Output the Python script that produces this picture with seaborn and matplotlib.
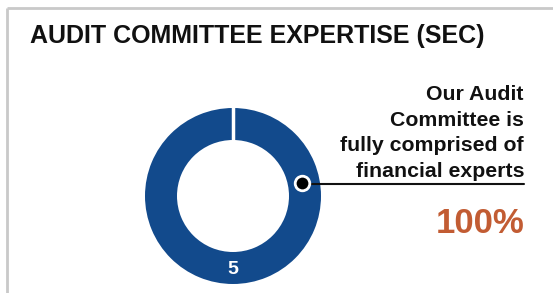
import matplotlib
matplotlib.use("Agg")
import matplotlib.pyplot as plt
import seaborn as sns

# data
title = "AUDIT COMMITTEE EXPERTISE (SEC)"
members = [5]
member_labels = ["5"]
callout_lines = ["Our Audit", "Committee is", "fully comprised of", "financial experts"]
expert_share = 100

blue = "#124a8c"
rust = "#c25c33"

sns.set_theme(style="white")
plt.rcParams['font.family'] = ['Liberation Sans', 'DejaVu Sans']

W, H = 553, 293
fig = plt.figure(figsize=(W / 100, H / 100), dpi=100)
ax = fig.add_axes([0, 0, 1, 1])

def Y(py):
    # pixel row -> data y
    return H - py

# donut
cx, cy, r, ring = 233, Y(196), 88, 32
ax.pie(members, radius=r, center=(cx, cy), startangle=90, counterclock=False,
       colors=[blue], frame=True, wedgeprops=dict(width=ring, linewidth=0))
# small white gap at the top of the ring
ax.plot([cx, cx], [cy + r - ring - 1, cy + r + 1], color="white", lw=2.5)
ax.text(cx, Y(270), member_labels[0], color="white", fontsize=14,
        fontweight="bold", ha="center", va="center")

ax.set_xlim(0, W)
ax.set_ylim(0, H)
ax.set_aspect("auto")
ax.axis("off")

# card border
ax.plot([7, W], [Y(8), Y(8)], color="#c9c9c9", lw=2, solid_capstyle="butt")
ax.plot([7, 7], [Y(8), 0], color="#c9c9c9", lw=2, solid_capstyle="butt")

# title
ax.text(30, Y(36), title, fontsize=18, fontweight="bold", color="#111111",
        ha="left", va="center")

# callout
ax.plot([302, 524], [Y(184), Y(184)], color="#111111", lw=1.5)
ax.scatter([302], [Y(183)], s=110, color="black", edgecolor="white",
           linewidth=2, zorder=5)
for i, line in enumerate(callout_lines):
    ax.text(524, Y(100 + i * 25.7), line, fontsize=15.3, fontweight="bold",
            color="#111111", ha="right", va="baseline")
ax.text(524, Y(233), f"{expert_share}%", fontsize=25, fontweight="bold",
        color=rust, ha="right", va="baseline")

fig.savefig("out.png", dpi=100, facecolor="white")
